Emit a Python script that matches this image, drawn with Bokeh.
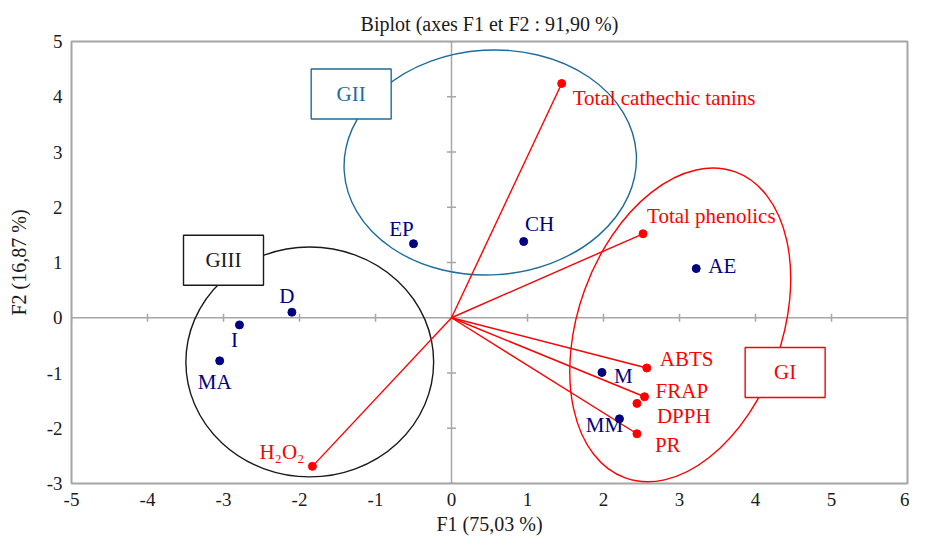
import math
from bokeh.plotting import figure
from bokeh.models import Span, FixedTicker, ColumnDataSource, Range1d
from bokeh.core.properties import value
from bokeh.embed import file_html
from bokeh.resources import INLINE

# ---------------- data ----------------
obs_names = ["D", "I", "MA", "EP", "CH", "AE", "M", "MM"]
obs_f1 = [-2.10, -2.79, -3.05, -0.50, 0.95, 3.22, 1.98, 2.21]
obs_f2 = [0.10, -0.13, -0.78, 1.34, 1.38, 0.89, -0.99, -1.83]

var_names = ["Total cathechic tanins", "Total phenolics", "ABTS", "FRAP", "DPPH", "PR", "H₂O₂"]
var_f1 = [1.45, 2.52, 2.57, 2.54, 2.44, 2.44, -1.83]
var_f2 = [4.24, 1.52, -0.91, -1.43, -1.55, -2.10, -2.69]
var_vector = [True, True, True, True, False, True, True]

group_names = ["GI", "GII", "GIII"]
x_ticks = [-5, -4, -3, -2, -1, 0, 1, 2, 3, 4, 5, 6]
y_ticks = [-3, -2, -1, 0, 1, 2, 3, 4, 5]

# ---------------- styling / layout ----------------
FONT = "Liberation Serif"
NAVY = "#000080"
RED = "#ff0000"
BLUE = "#1f6b9c"
BLACK = "#1a1a1a"
GRAY = "#a6a6a6"

# label placement (screen px offsets, alignment)
obs_lbl = {"D": (-5, -16, "center"), "I": (-5, 15, "center"), "MA": (-5, 21, "center"),
           "EP": (-12, -15, "center"), "CH": (16, -18, "center"), "AE": (12, -3, "left"),
           "M": (12, 4, "left"), "MM": (-15, 6, "center")}
var_lbl = {"Total cathechic tanins": (11, 15, "left"), "Total phenolics": (4, -18, "left"),
           "ABTS": (13, -9, "left"), "FRAP": (11, -6, "left"), "DPPH": (20, 13, "left"),
           "PR": (18, 11, "left"), "H₂O₂": (-8, -14, "right")}

# group shapes: centre (data), size (data), angle (rad), colour; box centre (data)
groups = {
    "GI": dict(cx=3.01, cy=-0.13, w=2.68, h=5.89, ang=-0.345, col=RED, bx=4.39, by=-0.99),
    "GII": dict(cx=0.51, cy=2.81, w=3.85, h=4.07, ang=0.06, col=BLUE, bx=-1.32, by=4.05),
    "GIII": dict(cx=-1.865, cy=-0.80, w=3.26, h=4.16, ang=0.0, col=BLACK, bx=-3.00, by=1.04),
}

p = figure(width=909, height=540, x_range=Range1d(-5, 6), y_range=Range1d(-3, 5),
           output_backend="svg", toolbar_location=None,
           min_border_left=71, min_border_right=2, min_border_top=41, min_border_bottom=57,
           title="Biplot (axes F1 et F2 : 91,90 %)")
p.title.align = "center"
p.title.text_font = FONT
p.title.text_font_size = "20px"
p.title.text_font_style = "normal"
p.title.text_color = "#1a1a1a"
p.title.standoff = 14

p.xgrid.visible = False
p.ygrid.visible = False
p.outline_line_color = GRAY
p.outline_line_width = 2
p.background_fill_color = "white"
p.border_fill_color = "white"

for ax, ticks in ((p.xaxis, x_ticks), (p.yaxis, y_ticks)):
    ax.ticker = FixedTicker(ticks=ticks)
    ax.major_label_overrides = {t: str(t) for t in ticks}
    ax.axis_line_color = None
    ax.major_tick_line_color = None
    ax.minor_tick_line_color = None
    ax.major_tick_in = 0
    ax.major_tick_out = 0
    ax.major_label_standoff = 9
    ax.major_label_text_font = FONT
    ax.major_label_text_font_size = "19px"
    ax.major_label_text_color = "#1a1a1a"
    ax.axis_label_text_font = FONT
    ax.axis_label_text_font_size = "20px"
    ax.axis_label_text_font_style = "normal"
    ax.axis_label_text_color = "#1a1a1a"
    ax.axis_label_standoff = 4
p.xaxis.axis_label = "F1 (75,03 %)"
p.yaxis.axis_label = "F2 (16,87 %)"
p.yaxis.axis_label_standoff = 14
p.yaxis.major_label_orientation = "horizontal"

# centre axes
p.add_layout(Span(location=0, dimension="height", line_color=GRAY, line_width=1.5, level="underlay"))
p.add_layout(Span(location=0, dimension="width", line_color=GRAY, line_width=1.5, level="underlay"))
p.scatter(x=x_ticks, y=[0] * len(x_ticks), marker="dash", angle=math.pi / 2, size=8,
          line_color=GRAY, line_width=1.5)
p.scatter(x=[0] * len(y_ticks), y=y_ticks, marker="dash", size=9, line_color=GRAY, line_width=1.5)

# group ellipses
for g in group_names:
    d = groups[g]
    p.ellipse(x=d["cx"], y=d["cy"], width=d["w"], height=d["h"], angle=d["ang"],
              fill_color=None, line_color=d["col"], line_width=1.4)

# variable vectors
vx = [x for x, v in zip(var_f1, var_vector) if v]
vy = [y for y, v in zip(var_f2, var_vector) if v]
p.segment(x0=[0] * len(vx), y0=[0] * len(vy), x1=vx, y1=vy, line_color=RED, line_width=1.4)

# points
p.scatter(x=var_f1, y=var_f2, size=8, fill_color=RED, line_color=RED)
p.scatter(x=obs_f1, y=obs_f2, size=8, fill_color=NAVY, line_color=NAVY)

# labels
def labels(names, xs, ys, lbl, color):
    src = ColumnDataSource(dict(x=xs, y=ys, t=names,
                                dx=[lbl[n][0] for n in names],
                                dy=[lbl[n][1] for n in names],
                                al=[lbl[n][2] for n in names]))
    p.text(x="x", y="y", text="t", x_offset="dx", y_offset="dy", text_align="al",
           text_baseline="middle", text_font=value(FONT), text_font_size="21px",
           text_color=color, source=src)

labels(obs_names, obs_f1, obs_f2, obs_lbl, NAVY)
labels(var_names, var_f1, var_f2, var_lbl, RED)

# group boxes
for g in group_names:
    d = groups[g]
    p.rect(x=d["bx"], y=d["by"], width=80, height=50, width_units="screen", height_units="screen",
           fill_color="white", line_color=d["col"], line_width=1.4)
    p.text(x=[d["bx"]], y=[d["by"]], text=[g], text_align="center", text_baseline="middle",
           text_font=value(FONT), text_font_size="21px", text_color=d["col"])

open("out.html", "w").write(file_html(p, INLINE))
